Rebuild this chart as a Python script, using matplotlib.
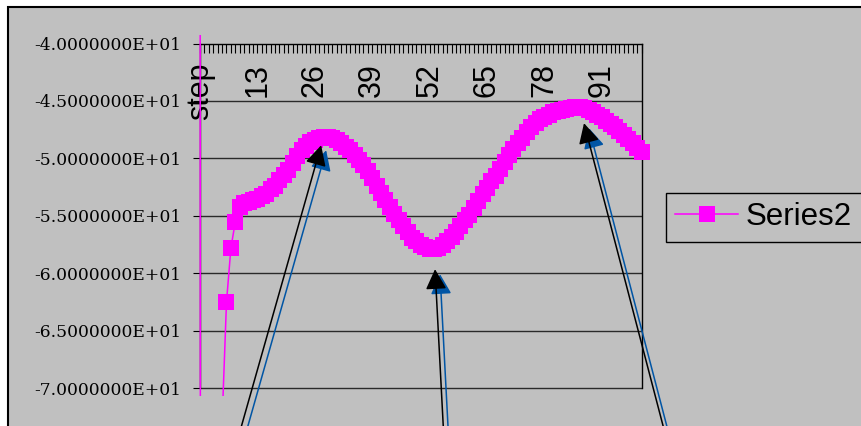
import numpy as np
import matplotlib
matplotlib.use('Agg')
import matplotlib.pyplot as plt
from matplotlib.patches import Rectangle
from matplotlib.transforms import offset_copy

# energy per step, first few steps are far outside the shown range
steps = np.arange(101)
step_labels = ['step'] + [str(s) for s in steps[1:]]
series2 = [
    0.0, -900.0, -400.0, -200.0, -110.0, -73.0,
    -62.5, -57.8, -55.5, -54.2, -53.9, -53.8, -53.6, -53.5, -53.3, -53.1,
    -52.7, -52.4, -51.9, -51.4, -51.0, -50.4, -49.8, -49.3, -48.9, -48.6,
    -48.4, -48.2, -48.1, -48.1, -48.2, -48.4, -48.7, -49.0, -49.3, -49.7,
    -50.1, -50.6, -51.1, -51.7, -52.4, -53.0, -53.6, -54.2, -54.8, -55.4,
    -55.9, -56.4, -56.9, -57.2, -57.5, -57.7, -57.9, -57.9, -57.8, -57.5,
    -57.2, -56.8, -56.4, -55.9, -55.4, -54.9, -54.3, -53.7, -53.1, -52.6,
    -52.0, -51.5, -50.9, -50.3, -49.7, -49.2, -48.7, -48.2, -47.7, -47.3,
    -46.9, -46.6, -46.4, -46.2, -46.0, -45.9, -45.8, -45.7, -45.6, -45.5,
    -45.5, -45.6, -45.8, -46.0, -46.2, -46.4, -46.7, -47.0, -47.3, -47.6,
    -48.0, -48.3, -48.7, -49.1, -49.4,
]
y_ticks = [-40, -45, -50, -55, -60, -65, -70]
label_every = 13
arrow_steps = [28, 53, 86]

W, H = 861, 426
fig = plt.figure(figsize=(W / 100, H / 100), dpi=100, facecolor='white')
fig.add_artist(Rectangle((8 / W, -0.1), 1.1, 1 - 7 / H + 0.1, transform=fig.transFigure,
                         facecolor='#c0c0c0', edgecolor='black', lw=1.5, zorder=-1))

ax = fig.add_axes([200 / W, 1 - 388.3 / H, 441.5 / W, 344.8 / H])
ax.set_facecolor('none')

line, = ax.plot(steps, series2, color='#ff00ff', lw=1.1, marker='s', ms=11.8, mew=0,
                label='Series2', zorder=3)
# let the line run a little past the plot area like the old chart engine did
clip = Rectangle((-0.1, -8 / 344.8), 1.2, 1 + 16.5 / 344.8, transform=ax.transAxes)
line.set_clip_path(clip)

ax.set_xlim(0, 100)
ax.set_ylim(-70, -40)

# category axis sits on top, labels hang below it
ax.spines['bottom'].set_position(('data', -40))
ax.spines['top'].set_visible(False)
for s in ('left', 'bottom', 'right'):
    ax.spines[s].set_linewidth(1.0)
    ax.spines[s].set_color('black')

ax.hlines(y_ticks[1:], 0, 100, color='#2a2a2a', lw=1.0, clip_on=False, zorder=1)

ax.set_yticks(y_ticks, labels=[f'{v:.7E}' for v in y_ticks],
              fontfamily='DejaVu Serif', fontsize=12.3)
ax.tick_params(axis='y', direction='out', length=5, width=0.8, pad=8.5)

ax.set_xticks(steps, labels=[lbl if s % label_every == 0 else ''
                             for s, lbl in zip(steps, step_labels)],
              rotation=90, fontfamily='Liberation Sans', fontsize=22)
ax.tick_params(axis='x', direction='out', length=6.5, width=0.8, pad=7.5)

leg = ax.legend(loc='upper left', bbox_to_anchor=(666 / W, 1 - 193 / H),
                bbox_transform=fig.transFigure, borderaxespad=0, fancybox=False,
                facecolor='#c0c0c0', edgecolor='black', framealpha=1,
                prop={'family': 'Liberation Sans', 'size': 22.5},
                handlelength=2.0, handletextpad=0.26, borderpad=0.3)
leg.get_frame().set_linewidth(1.0)

# arrows with a blue shadow pointing at the turning points
arrow_tails = [(-86, -303), (10, -191), (87, -333)]
arrow_gaps = [9, 20, 17]
for step, tail, gap in zip(arrow_steps, arrow_tails, arrow_gaps):
    for color, d in (('#0055a5', 5), ('black', 0)):
        tr = offset_copy(ax.transData, fig=fig, x=d, y=-d, units='dots')
        ax.annotate('', xy=(step, series2[step]), xycoords=tr,
                    xytext=tail, textcoords='offset pixels',
                    arrowprops=dict(arrowstyle='-|>,head_length=0.62,head_width=0.32',
                                    mutation_scale=20, color=color, lw=1.1,
                                    shrinkA=0, shrinkB=gap * 0.72),
                    annotation_clip=False, zorder=5)

fig.savefig('out.png', dpi=100, facecolor=fig.get_facecolor())
